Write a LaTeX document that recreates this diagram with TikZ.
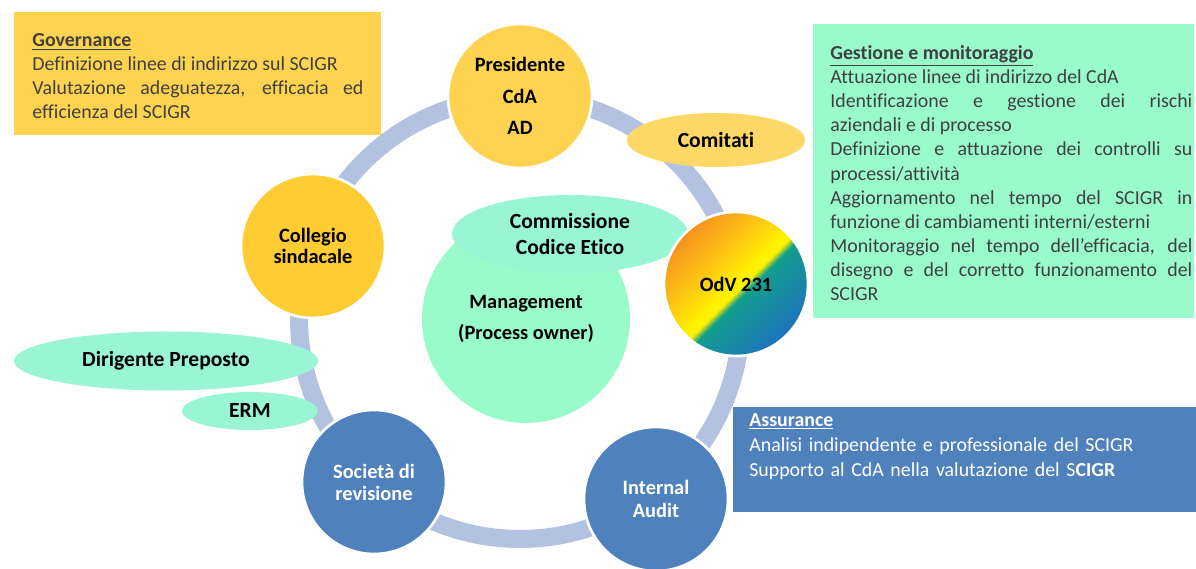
\documentclass[tikz,border=0pt]{standalone}
\usepackage{fontspec}
\setmainfont{Carlito}[Ligatures={TeX,NoCommon}]
\usepackage{xcolor}
\usepackage{tikz}
\usetikzlibrary{shapes.geometric}
\usetikzlibrary{positioning}
\usetikzlibrary{calc}

\definecolor{ringBlue}{RGB}{178,194,224}
\definecolor{sunYellow}{RGB}{255,204,51}
\definecolor{paleYellow}{RGB}{254,211,80}
\definecolor{lightOrange}{RGB}{253,216,102}
\definecolor{steelBlue}{RGB}{79,129,189}
\definecolor{mint}{RGB}{153,250,202}
\definecolor{aqua}{RGB}{153,245,212}
\definecolor{darkText}{RGB}{64,64,64}
\definecolor{odvOrange}{RGB}{246,146,30}
\definecolor{odvAmber}{RGB}{252,192,20}
\definecolor{odvYellow}{RGB}{255,242,0}
\definecolor{odvTeal}{RGB}{18,158,140}
\definecolor{odvBlue}{RGB}{30,115,192}

% orange -> yellow, hard edge to teal -> blue
\pgfdeclarehorizontalshading{odvShading}{100bp}{color(0bp)=(odvOrange); color(25bp)=(odvOrange); color(38bp)=(odvAmber); color(50bp)=(odvYellow); color(52bp)=(odvYellow); color(54.5bp)=(odvTeal); color(75bp)=(odvBlue); color(100bp)=(odvBlue)}

\newcommand{\labelFont}{\fontsize{11.6}{12.5}\selectfont\bfseries}
\newcommand{\bigLabelFont}{\fontsize{12.3}{12.5}\selectfont\bfseries}
\newcommand{\boxFont}{\fontsize{11.3}{13.75}\selectfont\hyphenpenalty=10000\exhyphenpenalty=10000}
\newcommand{\assFont}{\fontsize{11.3}{14.2}\selectfont}

\begin{document}
\begin{tikzpicture}[
        defaultS/.style={
            align=center,
            font=\labelFont,
            inner sep=0pt
        },
        circleS/.style={
        	defaultS,
        	circle,
        	minimum size=2.88cm,
        	draw=white,
        	line width=1.5pt
        },
        ellipseS/.style={
        	defaultS,
        	ellipse,
        	font=\bigLabelFont
        },
        boxS/.style={
            rectangle,
            inner sep=0pt,
            anchor=north west
        },
        textS/.style={
            font=\boxFont,
            align=justify,
            inner sep=0pt,
            anchor=north west,
            text=darkText
        },
        ringS/.style={ringBlue, line width=0.36cm},
    ]
    \useasboundingbox (0,0) rectangle (23.92,11.38);

	% the ring behind everything
	\coordinate (RC) at (10.40,5.02);
	\draw[ringS] (RC) circle (4.42cm);

	% centre
	\node[defaultS, circle, fill=mint, minimum size=4.16cm] (M) at (10.52,5.00) {Management\\[5.5pt](Process owner)};
	\node[ellipseS, fill=aqua, minimum width=4.72cm, minimum height=1.56cm] (CCE) at (11.40,6.70) {Commissione\\[2.3pt]Codice Etico};

	% circles on the ring
	\node[circleS, fill=paleYellow] (P) at (10.40,9.46) {Presidente\\[5.5pt]CdA\\[5.5pt]AD};
	\node[circleS, shading=odvShading, shading angle=-45] (OdV) at (14.72,5.70) {OdV 231};
	\node[circleS, fill=steelBlue, text=white] (IA) at (13.12,1.40) {Internal\\[0.5pt]Audit};
	\node[circleS, fill=steelBlue, text=white] (SR) at (7.48,1.74) {Società di\\revisione};
	\node[circleS, fill=sunYellow] (CS) at (6.26,6.46) {Collegio\\[-0.5pt]sindacale};

	% ellipses
	\node[ellipseS, fill=lightOrange, minimum width=3.56cm, minimum height=1.08cm] (Com) at (14.32,8.58) {Comitati};
	\node[ellipseS, fill=aqua, minimum width=6.08cm, minimum height=1.18cm] (DP) at (3.32,4.16) {Dirigente Preposto};
	\node[ellipseS, fill=aqua, minimum width=2.72cm, minimum height=0.76cm] (ERM) at (5.00,3.16) {ERM};

	% text boxes
	\node[boxS, fill=paleYellow, minimum width=7.34cm, minimum height=2.46cm] (Gov) at (0.28,11.14) {};
	\node[textS, text width=6.62cm] (GovT) at ([shift={(0.36,-0.42)}]Gov.north west) {\underline{\textbf{Governance}}\par
		Definizione linee di indirizzo sul SCIGR\par
		Valutazione adeguatezza, efficacia ed\linebreak efficienza del SCIGR};

	\node[boxS, fill=mint, minimum width=7.62cm, minimum height=5.88cm] (Gest) at (16.26,10.90) {};
	\node[textS, text width=7.24cm] (GestT) at ([shift={(0.34,-0.42)}]Gest.north west) {\underline{\textbf{Gestione e monitoraggio}}\par
		Attuazione linee di indirizzo del CdA\par
		Identificazione e gestione dei rischi\linebreak aziendali e di processo\par
		Definizione e attuazione dei controlli su\linebreak processi/attività\par
		Aggiornamento nel tempo del SCIGR in\linebreak funzione di cambiamenti interni/esterni\par
		Monitoraggio nel tempo dell’efficacia, del\linebreak disegno e del corretto funzionamento del\linebreak SCIGR};

	\node[boxS, fill=steelBlue, minimum width=9.26cm, minimum height=2.10cm] (Ass) at (14.66,3.24) {};
	\node[textS, text=white, text width=8.6cm, align=left, font=\assFont] (AssT) at ([shift={(0.32,-0.12)}]Ass.north west) {\underline{\textbf{Assurance}}\par
		Analisi indipendente e professionale del SCIGR\par
		Supporto al CdA nella valutazione del S\textbf{CIGR}};

    \end{tikzpicture}
\end{document}
